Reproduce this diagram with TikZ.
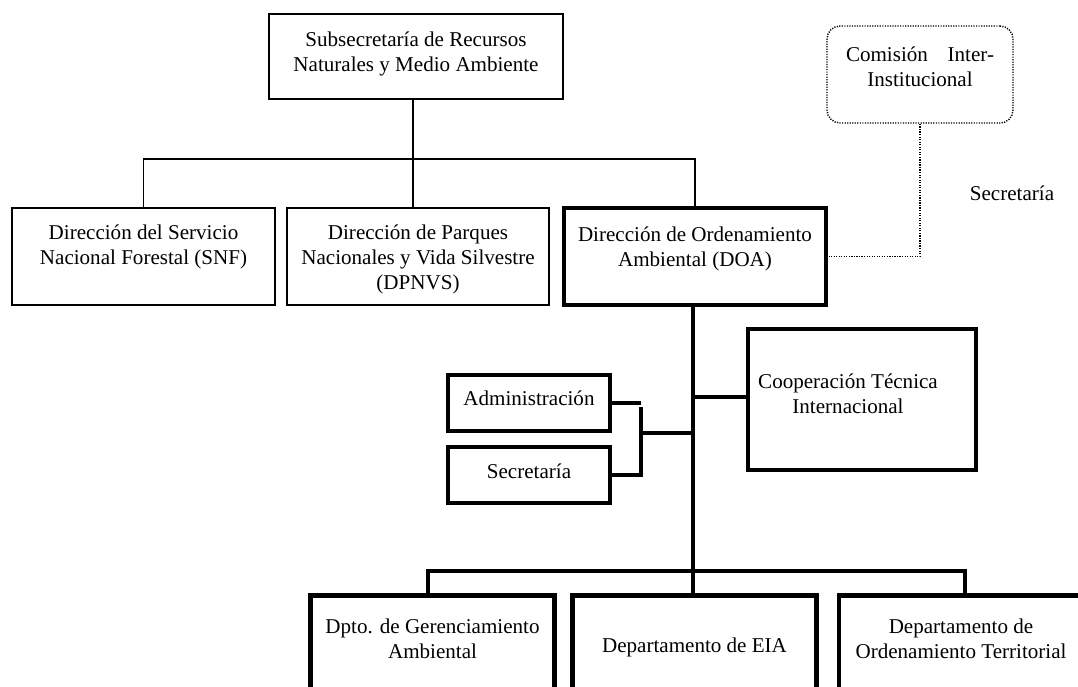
\documentclass[tikz,border=0pt]{standalone}
\usepackage{fontspec}
\setmainfont{Liberation Serif}
\newdimen\pxu \pxu=0.75pt
\newcommand{\bxt}[4]{\parbox[c][#2\pxu][t]{#1\pxu}{\centering\vspace*{#3\pxu}\strut #4}}
\begin{document}
\begin{tikzpicture}[x=0.75pt,y=-0.75pt,
  bx/.style={draw, rectangle, inner sep=0pt, outer sep=0pt, font=\fontsize{15.8}{18.6}\selectfont},
  thinbox/.style={bx, line width=1pt},
  thickbox/.style={bx, line width=3.5pt},
  dotbox/.style={bx, line width=1.1pt, dash pattern=on 0.9pt off 1pt, rounded corners=9.75pt},
  thinline/.style={line width=1pt},
  thickline/.style={line width=3.7pt},
  dotline/.style={line width=1.1pt, dash pattern=on 0.9pt off 1pt},
  plain/.style={inner sep=0pt, font=\fontsize{15.8}{18.6}\selectfont}]
\useasboundingbox (0,0) rectangle (1078,686);
\clip (0,0) rectangle (1078,686);

\node[thinbox] (top) at (416,56.5) {\bxt{294}{85}{15.6}{Subsecretaría de Recursos\\Naturales y Medio Ambiente}};
\node[thinbox] (snf) at (143.5,256.5) {\bxt{263}{97}{14.6}{Dirección del Servicio\\Nacional Forestal (SNF)}};
\node[thinbox] (dpnvs) at (418,256.5) {\bxt{262}{97}{14.6}{Dirección de Parques\\Nacionales y Vida Silvestre\\(DPNVS)}};
\node[thickbox] (doa) at (695,256.5) {\bxt{262}{97}{16.6}{Dirección de Ordenamiento\\Ambiental (DOA)}};
\node[thickbox] (coop) at (862,399.5) {\bxt{228}{141}{42.6}{\hspace*{-28\pxu}\parbox[t]{200\pxu}{\centering Cooperación Técnica\\Internacional}}};
\node[thickbox] (admin) at (529,403) {\bxt{162}{56}{13.6}{Administración}};
\node[thickbox] (sec) at (529,475) {\bxt{162}{56}{14.6}{Secretaría}};
\node[thickbox] (d1) at (432.5,645.5) {\bxt{244}{100}{21}{Dpto. de Gerenciamiento\\Ambiental}};
\node[thickbox] (d2) at (694.5,645.5) {\bxt{244}{100}{39.6}{Departamento de EIA}};
\node[thickbox] (d3) at (961,645.5) {\bxt{244}{100}{21}{Departamento de\\Ordenamiento Territorial}};
\node[dotbox] (com) at (920,74.5) {\bxt{186}{97}{18.6}{\makebox[148\pxu][s]{Comisión Inter-}\\Institucional}};
\node[plain] (sectxt) at (1012,193) {Secretaría};

\coordinate (j0) at (413,159);
\coordinate (jd) at (693,571);
\coordinate (jc) at (693,397);
\coordinate (ja) at (641,433);
\coordinate (jt) at (641,407);
\coordinate (jl) at (428,571);
\coordinate (jr) at (965,571);

\draw[thinline] (top.south -| j0) -- (dpnvs.north -| j0);
\draw[thinline] (snf.north) |- (j0) -| (doa.north);
\draw[thickline] (doa.south -| jd) -- (d2.north -| jd);
\draw[thickline] (d1.north -| jl) |- (jr) -- (d3.north -| jr);
\draw[thickline] (jc) -- (coop.west |- jc);
\draw[thickline] (admin.east) -- (admin.east -| ja);
\draw[thickline] (sec.east) -| (jt);
\draw[thickline] (ja) -- (ja -| jd);
\draw[dotline] (doa.east) -| (com.south);
\end{tikzpicture}
\end{document}
